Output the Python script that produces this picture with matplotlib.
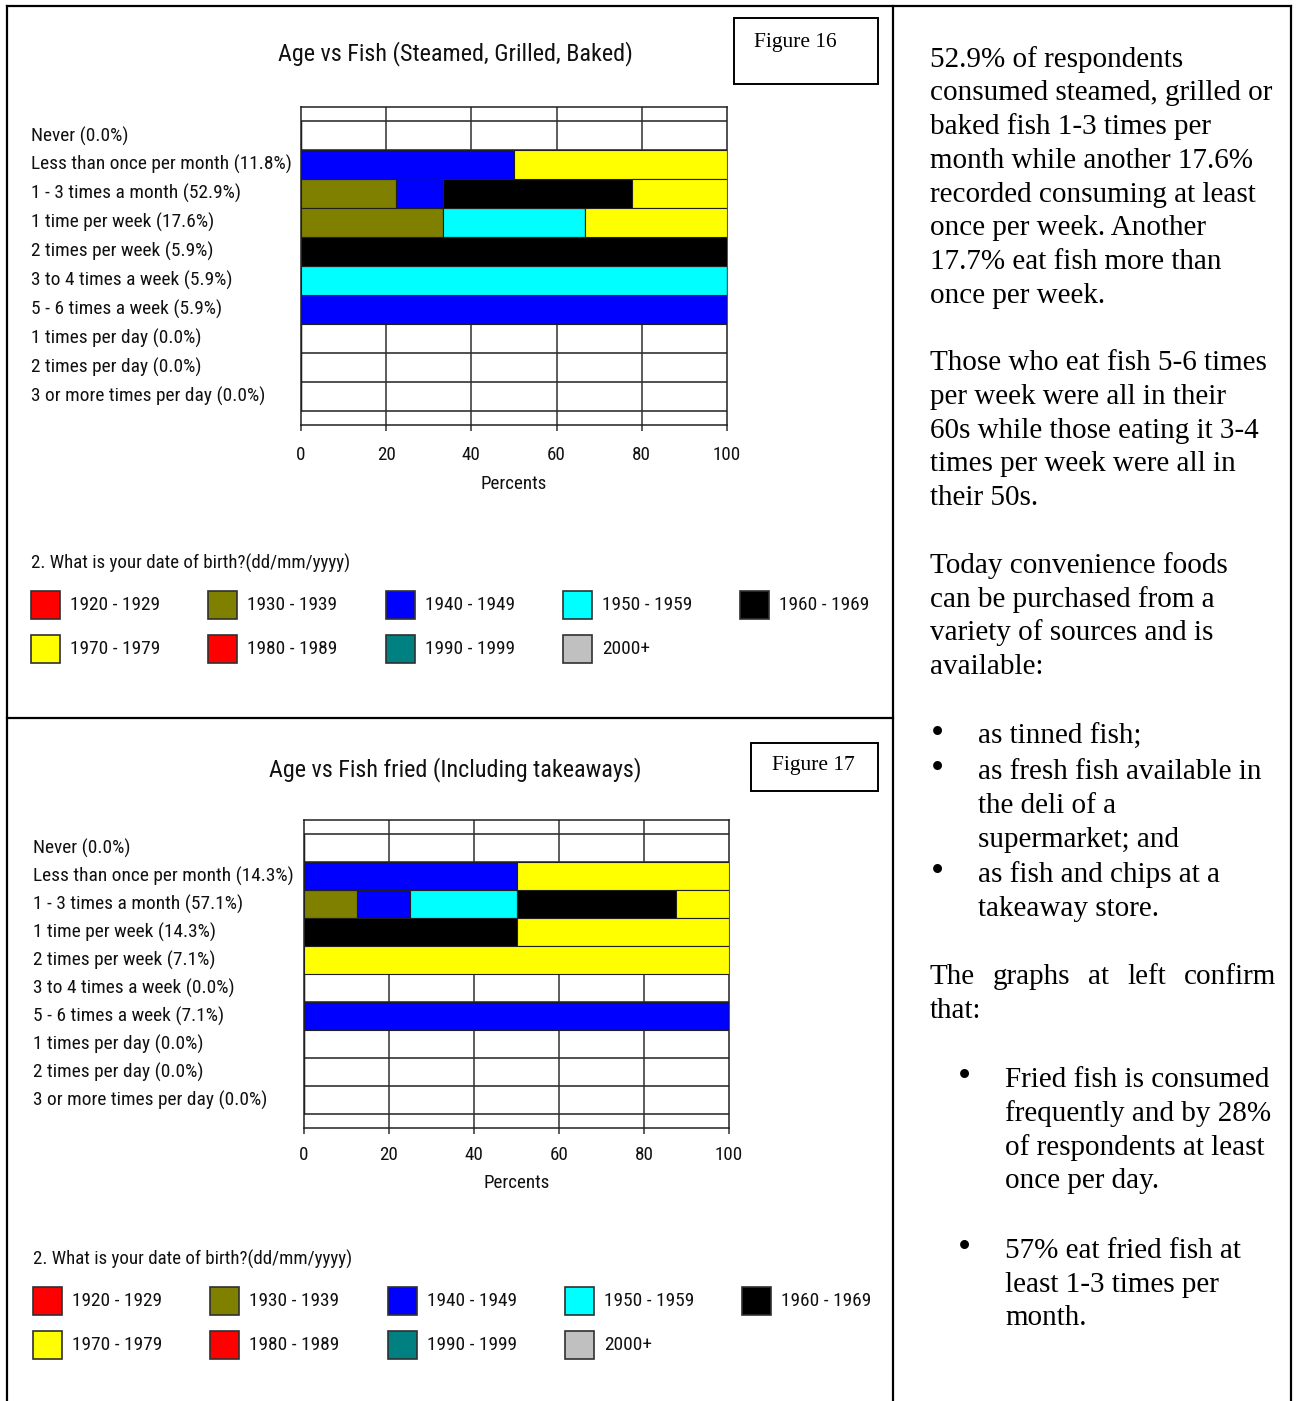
import numpy as np
import matplotlib
matplotlib.use("Agg")
from matplotlib import pyplot as plt
from matplotlib.patches import Rectangle
from matplotlib.lines import Line2D
from matplotlib.transforms import blended_transform_factory

W, H = 1298, 1401
NARROW = ['Liberation Sans Narrow', 'Roboto Condensed', 'DejaVu Sans']
SERIF = ['Liberation Serif', 'DejaVu Serif']
INK = '#111111'

# birth cohorts and their colours
cohorts = ['1920 - 1929', '1930 - 1939', '1940 - 1949', '1950 - 1959', '1960 - 1969',
           '1970 - 1979', '1980 - 1989', '1990 - 1999', '2000+']
cohort_colors = ['#FF0000', '#808000', '#0000FF', '#00FFFF', '#000000',
                 '#FFFF00', '#FF0000', '#008080', '#C0C0C0']

freq_16 = ['Never (0.0%)', 'Less than once per month (11.8%)', '1 - 3 times a month (52.9%)',
           '1 time per week (17.6%)', '2 times per week (5.9%)', '3 to 4 times a week (5.9%)',
           '5 - 6 times a week (5.9%)', '1 times per day (0.0%)', '2 times per day (0.0%)',
           '3 or more times per day (0.0%)']
freq_17 = ['Never (0.0%)', 'Less than once per month (14.3%)', '1 - 3 times a month (57.1%)',
           '1 time per week (14.3%)', '2 times per week (7.1%)', '3 to 4 times a week (0.0%)',
           '5 - 6 times a week (7.1%)', '1 times per day (0.0%)', '2 times per day (0.0%)',
           '3 or more times per day (0.0%)']

# share of each frequency row (percent) by cohort - Figure 16 steamed/grilled/baked
s16_1930 = [0, 0, 22.2, 33.3, 0, 0, 0, 0, 0, 0]
s16_1940 = [0, 50, 11.1, 0, 0, 0, 100, 0, 0, 0]
s16_1950 = [0, 0, 0, 33.3, 0, 100, 0, 0, 0, 0]
s16_1960 = [0, 0, 44.4, 0, 100, 0, 0, 0, 0, 0]
s16_1970 = [0, 50, 22.3, 33.4, 0, 0, 0, 0, 0, 0]

# Figure 17 fried fish
s17_1930 = [0, 0, 12.5, 0, 0, 0, 0, 0, 0, 0]
s17_1940 = [0, 50, 12.5, 0, 0, 0, 100, 0, 0, 0]
s17_1950 = [0, 0, 25, 0, 0, 0, 0, 0, 0, 0]
s17_1960 = [0, 0, 37.5, 50, 0, 0, 0, 0, 0, 0]
s17_1970 = [0, 50, 12.5, 50, 100, 0, 0, 0, 0, 0]

ticks = [0, 20, 40, 60, 80, 100]


def fx(x):
    return x / W


def fy(y):
    return 1 - y / H


fig = plt.figure(figsize=(W / 100, H / 100), dpi=100)
renderer = fig.canvas.get_renderer()


def text_width(s, size, family, stretch='condensed'):
    t = fig.text(0, 0, s, fontsize=size, family=family, fontstretch=stretch)
    w = t.get_window_extent(renderer).width
    t.remove()
    return w


def fit(s, px, family=NARROW, cap=None):
    # font size that makes s about px pixels wide
    size = 15 * px / text_width(s, 15, family)
    return min(size, cap) if cap else size


# sizes for the chart lettering
SZ_CAT = fit('Less than once per month (11.8%)', 261, cap=15)
SZ_TITLE = fit('Age vs Fish (Steamed, Grilled, Baked)', 355, cap=17.5)
SZ_TICK = fit('100', 28, cap=15)
SZ_KEYT = fit('2. What is your date of birth?(dd/mm/yyyy)', 320, cap=15)
SZ_KEY = fit('1920 - 1929', 90, cap=15)


def ntext(x, y, s, size, **kw):
    kw.setdefault('transform', fig.transFigure)
    return fig.text(x, y, s, fontsize=size, family=NARROW, fontstretch='condensed',
                    color=INK, **kw)


def hline(x0, x1, y, lw=1.6, color='black'):
    fig.add_artist(Line2D([fx(x0), fx(x1)], [fy(y), fy(y)], color=color, lw=lw))


def vline(x, y0, y1, lw=1.6, color='black'):
    fig.add_artist(Line2D([fx(x), fx(x)], [fy(y0), fy(y1)], color=color, lw=lw))


# page table borders
hline(7, 1291, 6)
vline(7, 6, H)
vline(893, 6, H)
vline(1291, 6, H)
hline(7, 893, 718)


def chart(left, right, top, bottom, labels, series, label_x, title, title_y,
          tick_y, xlab_y, leg_y, leg_x):
    ax = fig.add_axes([fx(left), fy(bottom), (right - left) / W, (bottom - top) / H])
    pos = np.arange(len(labels))
    acc = np.zeros(len(labels))
    for name, vals in series:
        col = cohort_colors[cohorts.index(name)]
        vals = np.array(vals, dtype=float)
        ax.barh(pos, vals, left=acc, height=1.0, color=col, edgecolor='#202020',
                linewidth=0.8, zorder=3)
        acc += vals
    for b in np.arange(-0.5, len(labels), 1.0):
        ax.axhline(b, color='#202020', lw=1.1, zorder=1)
    for t in ticks[1:-1]:
        ax.axvline(t, color='#303030', lw=1.1, zorder=1)
    ax.set_xlim(0, 100)
    ax.set_ylim(len(labels), -1)
    ax.set_yticks([])
    ax.set_xticks(ticks)
    ax.set_xticklabels([])
    ax.tick_params(axis='x', length=4.5, width=1.1, color='#303030', direction='out')
    for s in ax.spines.values():
        s.set_color('#202020')
        s.set_linewidth(1.1)
    ttr = blended_transform_factory(ax.transData, fig.transFigure)
    for t in ticks:
        ntext(t, fy(tick_y), str(t), SZ_TICK, transform=ttr, ha='center', va='center')
    ntext(fx((left + right) / 2), fy(xlab_y), 'Percents', SZ_TICK, ha='center', va='center')
    tr = blended_transform_factory(fig.transFigure, ax.transData)
    for p, lab in zip(pos, labels):
        ntext(fx(label_x), p, lab, SZ_CAT, transform=tr, ha='left', va='center')
    ntext(fx(455), fy(title_y), title, SZ_TITLE, ha='center', va='center')

    # cohort key
    ntext(fx(leg_x), fy(leg_y), '2. What is your date of birth?(dd/mm/yyyy)', SZ_KEYT,
          ha='left', va='center')
    for i, (name, col) in enumerate(zip(cohorts, cohort_colors)):
        r, c = divmod(i, 5)
        cy = leg_y + 42 + r * 44
        sx = leg_x + c * 177.3
        fig.add_artist(Rectangle((fx(sx), fy(cy + 14)), 29 / W, 28 / H, facecolor=col,
                                 edgecolor='#303030', lw=1.2))
        ntext(fx(sx + 39), fy(cy), name, SZ_KEY, ha='left', va='center')
    return ax


chart(301, 727, 107, 425, freq_16,
      [('1930 - 1939', s16_1930), ('1940 - 1949', s16_1940), ('1950 - 1959', s16_1950),
       ('1960 - 1969', s16_1960), ('1970 - 1979', s16_1970)],
      31, 'Age vs Fish (Steamed, Grilled, Baked)', 54, 455, 484, 563, 31)

chart(304, 729, 820, 1128, freq_17,
      [('1930 - 1939', s17_1930), ('1940 - 1949', s17_1940), ('1950 - 1959', s17_1950),
       ('1960 - 1969', s17_1960), ('1970 - 1979', s17_1970)],
      33, 'Age vs Fish fried (Including takeaways)', 770, 1155, 1183, 1259, 33)

# figure number boxes
fig.add_artist(Rectangle((fx(734), fy(84)), 144 / W, 66 / H, facecolor='none',
                         edgecolor='black', lw=1.4))
fig.text(fx(754), fy(43), 'Figure 16', ha='left', va='center', fontsize=15.5, family=SERIF)
fig.add_artist(Rectangle((fx(751), fy(791)), 127 / W, 48 / H, facecolor='none',
                         edgecolor='black', lw=1.4))
fig.text(fx(772), fy(766), 'Figure 17', ha='left', va='center', fontsize=15.5, family=SERIF)

# commentary column
body = [
    (930, 58, '52.9% of respondents'),
    (930, 91, 'consumed steamed, grilled or'),
    (930, 125, 'baked fish 1-3 times per'),
    (930, 159, 'month while another 17.6%'),
    (930, 193, 'recorded consuming at least'),
    (930, 226, 'once per week. Another'),
    (930, 260, '17.7% eat fish more than'),
    (930, 294, 'once per week.'),
    (930, 361, 'Those who eat fish 5-6 times'),
    (930, 395, 'per week were all in their'),
    (930, 429, '60s while those eating it 3-4'),
    (930, 462, 'times per week were all in'),
    (930, 496, 'their 50s.'),
    (930, 564, 'Today convenience foods'),
    (930, 598, 'can be purchased from a'),
    (930, 631, 'variety of sources and is'),
    (930, 665, 'available:'),
    (978, 735, 'as tinned fish;'),
    (978, 770, 'as fresh fish available in'),
    (978, 804, 'the deli of a'),
    (978, 838, 'supermarket; and'),
    (978, 873, 'as fish and chips at a'),
    (978, 907, 'takeaway store.'),
    (930, 1009, 'that:'),
    (1005, 1078, 'Fried fish is consumed'),
    (1005, 1112, 'frequently and by 28%'),
    (1005, 1146, 'of respondents at least'),
    (1005, 1179, 'once per day.'),
    (1005, 1249, '57% eat fried fish at'),
    (1005, 1283, 'least 1-3 times per'),
    (1005, 1316, 'month.'),
]
for x, y, s in body:
    fig.text(fx(x), fy(y + 9), s, ha='left', va='baseline', fontsize=21, family=SERIF)

# justified line between 930 and 1276
words = ['The', 'graphs', 'at', 'left', 'confirm']
widths = [text_width(w, 21, SERIF, 'normal') for w in words]
gap = (1276 - 930 - sum(widths)) / (len(words) - 1)
x = 930
for w, wd in zip(words, widths):
    fig.text(fx(x), fy(975 + 9), w, ha='left', va='baseline', fontsize=21, family=SERIF)
    x += wd + gap

for x, y in [(937, 735), (937, 770), (937, 873), (964, 1078), (964, 1249)]:
    fig.text(fx(x), fy(y), '\u2022', ha='center', va='center', fontsize=27, family=SERIF)

fig.savefig('out.png', dpi=100)
